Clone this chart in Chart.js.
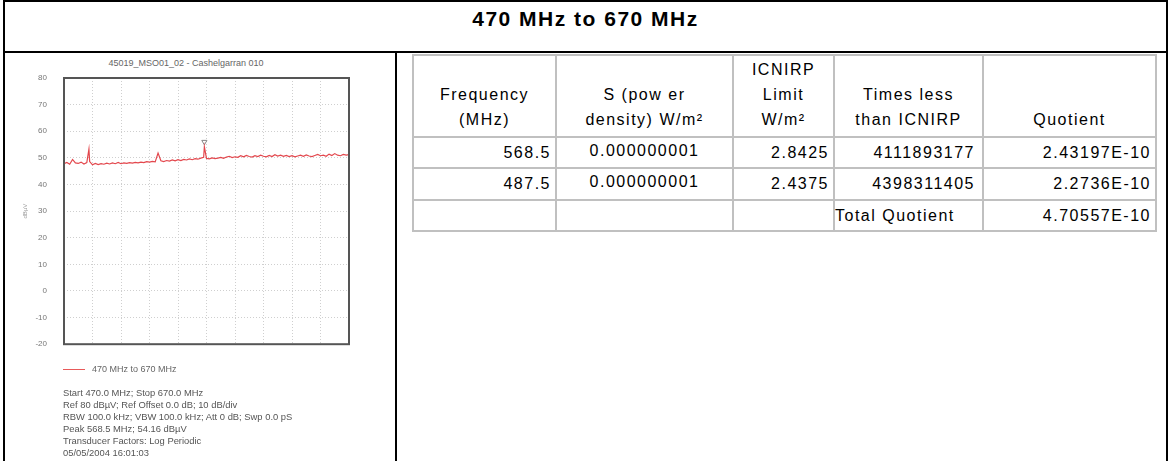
<!DOCTYPE html>
<html lang="en">
<head>
    <meta charset="UTF-8">
    <title>470 MHz to 670 MHz</title>
    <script src="https://cdn.jsdelivr.net/npm/chart.js"></script>
    <style>
        body {
            margin: 0;
            width: 1171px;
            height: 461px;
            overflow: hidden;
            background: #fff;
            font-family: 'Liberation Sans', Arial, sans-serif;
            position: relative;
        }

        .frame {
            position: absolute;
            left: 3px;
            top: 0;
            width: 1165px;
            height: 480px;
            border: 2px solid #000;
            box-sizing: border-box;
        }

        .hline {
            position: absolute;
            left: 3px;
            top: 51px;
            width: 1165px;
            height: 2px;
            background: #000;
        }

        .vline {
            position: absolute;
            left: 395px;
            top: 52px;
            width: 2px;
            height: 420px;
            background: #000;
        }

        .main-title {
            position: absolute;
            left: 0;
            top: 7px;
            width: 1171px;
            text-align: center;
            font-weight: bold;
            font-size: 21px;
            letter-spacing: 1.5px;
            color: #000;
        }

        .plot-title {
            position: absolute;
            left: 6px;
            top: 58px;
            width: 360px;
            text-align: center;
            font-size: 9px;
            color: #666;
        }

        #spectrum {
            position: absolute;
            left: 6px;
            top: 54px;
        }

        .legend-line {
            position: absolute;
            left: 63px;
            top: 369px;
            width: 22px;
            height: 1px;
            background: #e85a5a;
        }

        .legend-text {
            position: absolute;
            left: 92px;
            top: 364px;
            font-size: 9px;
            color: #666;
        }

        .info {
            position: absolute;
            left: 63px;
            top: 387px;
            font-size: 9.4px;
            line-height: 12px;
            color: #555;
        }

        .grid {
            position: absolute;
            left: 412px;
            top: 54px;
            display: grid;
            grid-template-columns: 141px 175px 99px 147px 171px;
            grid-template-rows: 80px 29px 30px 29px;
            gap: 2px;
            padding: 2px;
            background: #c0c0c0;
            font-size: 16px;
            letter-spacing: 1.5px;
            color: #000;
        }

        .grid div {
            background: #fff;
            display: flex;
            white-space: nowrap;
        }

        .grid .head {
            flex-direction: column;
            justify-content: flex-end;
            align-items: center;
            text-align: center;
            line-height: 25px;
            padding-bottom: 4px;
            box-sizing: border-box;
        }

        .grid .num {
            align-items: center;
            justify-content: flex-end;
            padding-right: 4px;
        }

        .grid .mid {
            align-items: center;
            justify-content: center;
            padding-bottom: 4px;
            box-sizing: border-box;
        }

        .grid .left {
            align-items: center;
            justify-content: flex-start;
        }
    </style>
</head>
<body>
    <div class="frame"></div>
    <div class="hline"></div>
    <div class="vline"></div>
    <div class="main-title">470 MHz to 670 MHz</div>

    <div class="plot-title">45019_MSO01_02 - Cashelgarran 010</div>
    <canvas id="spectrum" width="388" height="312"></canvas>
    <div class="legend-line"></div>
    <div class="legend-text">470 MHz to 670 MHz</div>
    <div class="info">
        Start 470.0 MHz; Stop 670.0 MHz<br>
        Ref 80 dBµV; Ref Offset 0.0 dB; 10 dB/div<br>
        RBW 100.0 kHz; VBW 100.0 kHz; Att 0 dB; Swp 0.0 pS<br>
        Peak 568.5 MHz; 54.16 dBµV<br>
        Transducer Factors: Log Periodic<br>
        05/05/2004 16:01:03
    </div>

    <div class="grid">
        <div class="head">Frequency<br>(MHz)</div>
        <div class="head">S (pow er<br>density) W/m²</div>
        <div class="head">ICNIRP<br>Limit<br>W/m²</div>
        <div class="head">Times less<br>than ICNIRP</div>
        <div class="head">Quotient</div>

        <div class="num">568.5</div>
        <div class="mid">0.000000001</div>
        <div class="num">2.8425</div>
        <div class="num" style="padding-right:7px">4111893177</div>
        <div class="num">2.43197E-10</div>

        <div class="num">487.5</div>
        <div class="mid">0.000000001</div>
        <div class="num">2.4375</div>
        <div class="num" style="padding-right:7px">4398311405</div>
        <div class="num">2.2736E-10</div>

        <div></div>
        <div></div>
        <div></div>
        <div class="left">Total Quotient</div>
        <div class="num">4.70557E-10</div>
    </div>

    <script>
        // trace (MHz / dBuV)
        const freqs = [
            470, 472, 474, 476, 478, 480, 482, 484, 486, 487.5, 488,
            490, 492, 494, 496, 498, 500, 502, 504, 506, 508,
            510, 512, 514, 516, 518, 520, 522, 524, 526, 528,
            530, 532, 534, 536, 538, 540, 542, 544, 546, 548,
            550, 552, 554, 556, 558, 560, 562, 564, 566, 568, 568.5,
            570, 572, 574, 576, 578, 580, 582, 584, 586, 588,
            590, 592, 594, 596, 598, 600, 602, 604, 606, 608,
            610, 612, 614, 616, 618, 620, 622, 624, 626, 628,
            630, 632, 634, 636, 638, 640, 642, 644, 646, 648,
            650, 652, 654, 656, 658, 660, 662, 664, 666, 668,
            670
        ];
        const levels = [
            47.8, 48.3, 47.6, 49.4, 48.1, 47.9, 48.4, 47.7, 48.2, 53.3, 48.6,
            47.4, 47.9, 47.5, 47.8, 47.6, 48.0, 47.7, 48.1, 47.8, 48.3,
            47.8, 48.1, 47.9, 48.2, 48.0, 48.3, 48.1, 48.4, 48.2, 48.6,
            48.4, 48.7, 48.5, 51.8, 48.9, 48.6, 49.0, 48.8, 49.2, 48.9,
            49.3, 49.0, 49.4, 49.2, 49.6, 49.3, 49.7, 49.5, 49.9, 50.2, 54.16,
            49.8, 49.6, 50.0, 49.7, 49.9, 50.2, 49.8, 50.3, 50.6, 50.1,
            50.4, 50.2, 50.8, 50.4, 50.9, 50.5, 50.3, 50.8, 50.5, 51.0,
            50.6, 50.4, 50.9, 50.5, 51.2, 50.7, 51.0, 50.6, 50.9, 50.5,
            50.8, 50.4, 50.7, 51.0, 50.6, 51.1, 50.7, 50.5, 50.9, 51.3,
            50.8, 51.0, 50.6, 51.4, 50.9, 51.6, 51.0, 50.8, 51.3, 51.0,
            51.2
        ];
        const peakFreq = 568.5;
        const markerLevel = 56;

        const yTicks = { min: -20, max: 80, step: 10 };
        const xTicks = { min: 470, max: 670, step: 20 };

        const trace = freqs.map((f, i) => ({ x: f, y: levels[i] }));

        // frame round the plot area
        const framePlugin = {
            id: 'plotFrame',
            afterDraw(chart) {
                const a = chart.chartArea;
                const c = chart.ctx;
                c.save();
                c.strokeStyle = '#555';
                c.lineWidth = 2;
                c.strokeRect(a.left, a.top, a.right - a.left, a.bottom - a.top);
                c.restore();
            }
        };

        const ctx = document.getElementById('spectrum').getContext('2d');
        new Chart(ctx, {
            type: 'line',
            data: {
                datasets: [{
                    label: '470 MHz to 670 MHz',
                    data: trace,
                    borderColor: '#e3474d',
                    borderWidth: 1.2,
                    pointRadius: 0,
                    tension: 0
                }, {
                    label: 'marker',
                    data: [{ x: peakFreq, y: markerLevel }],
                    showLine: false,
                    pointStyle: 'triangle',
                    rotation: 180,
                    pointRadius: 3,
                    borderColor: '#888',
                    borderWidth: 1,
                    backgroundColor: '#fff'
                }]
            },
            options: {
                responsive: false,
                animation: false,
                devicePixelRatio: 1,
                layout: { padding: { top: 24, right: 45, bottom: 8, left: 0 } },
                plugins: {
                    legend: { display: false },
                    tooltip: { enabled: false }
                },
                scales: {
                    x: {
                        type: 'linear',
                        min: xTicks.min,
                        max: xTicks.max,
                        ticks: { display: false, stepSize: xTicks.step },
                        grid: { color: '#cfcfcf', drawTicks: false },
                        border: { display: false, dash: [1, 2] },
                        afterFit: (s) => { s.height = 0; }
                    },
                    y: {
                        min: yTicks.min,
                        max: yTicks.max,
                        ticks: {
                            stepSize: yTicks.step,
                            padding: 17,
                            color: '#777',
                            font: { size: 8, family: 'Liberation Sans' }
                        },
                        grid: { color: '#cfcfcf', drawTicks: false },
                        border: { display: false, dash: [1, 2] },
                        title: {
                            display: true,
                            text: 'dBµV',
                            color: '#999',
                            padding: { top: 16, bottom: 0 },
                            font: { size: 6, family: 'Liberation Sans' }
                        },
                        afterFit: (s) => { s.width = 58; }
                    }
                }
            },
            plugins: [framePlugin]
        });
    </script>
</body>
</html>
